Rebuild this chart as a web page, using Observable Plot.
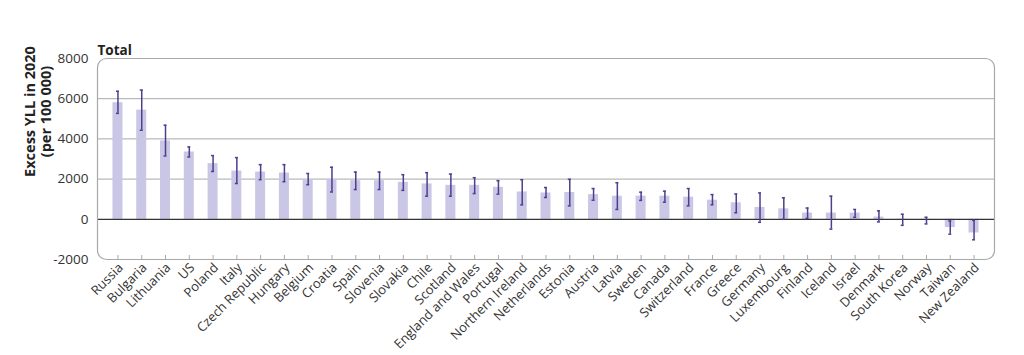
<!DOCTYPE html>
<html>
<head>
<meta charset="utf-8">
<script src="https://cdn.jsdelivr.net/npm/d3@7"></script>
<script src="https://cdn.jsdelivr.net/npm/@observablehq/plot@0.6"></script>
<style>
  html, body { margin: 0; padding: 0; background: #fff; }
  #chart svg { display: block; }
</style>
</head>
<body>
<div id="chart"></div>
<script>
const countries = ["Russia","Bulgaria","Lithuania","US","Poland","Italy","Czech Republic","Hungary","Belgium","Croatia","Spain","Slovenia","Slovakia","Chile","Scotland","England and Wales","Portugal","Northern Ireland","Netherlands","Estonia","Austria","Latvia","Sweden","Canada","Switzerland","France","Greece","Germany","Luxembourg","Finland","Iceland","Israel","Denmark","South Korea","Norway","Taiwan","New Zealand"];
const values = [5800,5430,3900,3350,2770,2400,2350,2300,1970,1990,1920,1920,1840,1760,1690,1690,1590,1360,1310,1330,1230,1150,1150,1150,1100,950,820,590,520,310,310,310,110,-25,-65,-410,-680];
const lower  = [5270,4430,3150,3100,2380,1780,1970,1870,1720,1360,1480,1480,1440,1150,1150,1280,1250,720,1085,670,950,490,940,850,670,720,325,-150,0,50,-490,100,-130,-300,-230,-740,-1020];
const upper  = [6370,6430,4680,3600,3170,3070,2720,2720,2280,2590,2350,2350,2220,2320,2250,2070,1920,1970,1580,1990,1530,1820,1350,1400,1530,1230,1260,1310,1070,560,1150,490,420,250,100,-85,-50];
const yTicks = [-2000,0,2000,4000,6000,8000];
const gridLines = [2000,4000,6000];

const data = countries.map((c, i) => ({country: c, value: values[i], lo: lower[i], hi: upper[i]}));

const barColor = "#c9c6e6";
const errColor = "#4b3f8e";

const chart = Plot.plot({
  width: 1024,
  height: 355,
  marginTop: 58,
  marginBottom: 96,
  marginLeft: 97,
  marginRight: 30,
  style: {fontFamily: "'Open Sans', sans-serif", fontSize: "13px", color: "#333", background: "#fff"},
  x: {domain: countries, paddingInner: 0.58, paddingOuter: 0.65, round: false, label: null},
  y: {domain: [-2000, 8000], label: null},
  marks: [
    Plot.ruleY(gridLines, {stroke: "#a8a8a8", strokeWidth: 1}),
    Plot.barY(data, {x: "country", y: "value", fill: barColor}),
    Plot.ruleY([0], {stroke: "#333", strokeWidth: 1.2}),
    Plot.ruleX(data, {x: "country", y1: "lo", y2: "hi", stroke: errColor, strokeWidth: 1.5}),
    Plot.tickY(data, {x: "country", y: "lo", stroke: errColor, strokeWidth: 1.5, insetLeft: 3.5, insetRight: 3.5}),
    Plot.tickY(data, {x: "country", y: "hi", stroke: errColor, strokeWidth: 1.5, insetLeft: 3.5, insetRight: 3.5}),
    Plot.frame({stroke: "#a8a8a8", rx: 9, strokeWidth: 1.2}),
    Plot.axisY({ticks: yTicks, tickSize: 0, tickPadding: 9, tickFormat: d => String(d), fontSize: 13.5, fill: "#333", label: null}),
    Plot.axisX({tickSize: 4, text: null, dy: -4, stroke: "#aaa", label: null}),
    Plot.axisX({tickSize: 0, tickRotate: -45, tickPadding: 6, dx: 3, fontSize: 13, fill: "#333", label: null}),
    Plot.text(["Total"], {frameAnchor: "top-left", textAnchor: "start", dy: -13, fontWeight: "bold", fontSize: 13.5, fill: "#222"}),
    Plot.text(["Excess YLL in 2020\n(per 100 000)"], {frameAnchor: "top-left", dx: -60, dy: 53, rotate: -90, textAnchor: "middle", lineAnchor: "middle", fontWeight: "bold", fontSize: 14.5, fill: "#222", lineHeight: 1.1})
  ]
});
document.getElementById("chart").appendChild(chart);
</script>
</body>
</html>
